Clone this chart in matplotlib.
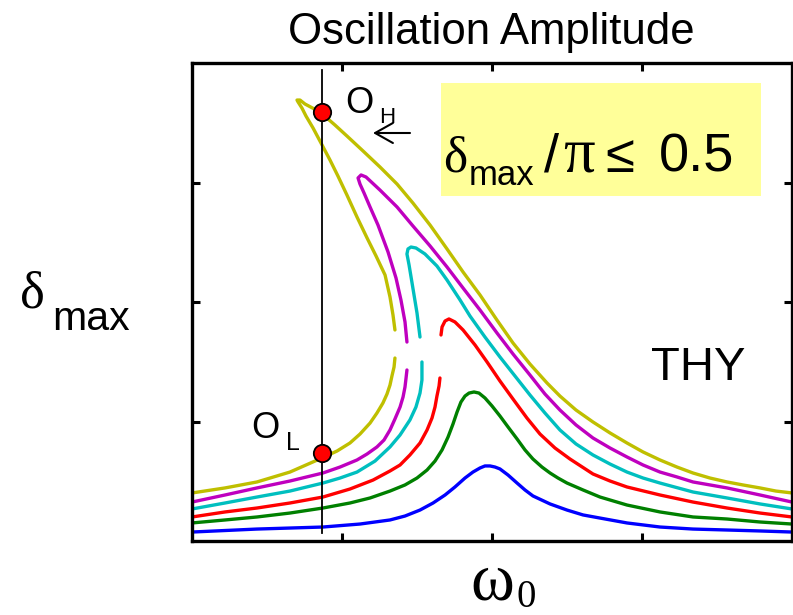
import matplotlib.pyplot as plt

# resonance curves (omega_0 and delta_max in arbitrary units)
# lower branch and (unstable + upper) branch for the four folded curves
olive_lo_x = [0.0, 0.22, 0.433, 0.653, 0.867, 0.967, 1.053, 1.12, 1.187, 1.233, 1.273, 1.30,
              1.32, 1.333, 1.347, 1.353]
olive_lo_y = [0.402, 0.444, 0.494, 0.577, 0.695, 0.753, 0.820, 0.895, 0.987, 1.071, 1.155, 1.230,
              1.305, 1.381, 1.456, 1.531]
olive_up_x = [1.353, 1.34, 1.32, 1.287, 1.227, 1.167, 1.10, 1.033, 0.973, 0.92, 0.867, 0.807,
              0.76, 0.733, 0.707, 0.70, 0.72, 0.753, 0.853, 0.953, 1.033, 1.14, 1.253, 1.367,
              1.473, 1.587, 1.70, 1.807, 1.92, 2.033, 2.14, 2.253, 2.367, 2.453, 2.56, 2.673,
              2.787, 2.90, 3.007, 3.12, 3.233, 3.34, 3.453, 3.567, 3.673, 3.787, 3.893, 4.0]
olive_up_y = [1.766, 1.891, 2.042, 2.226, 2.385, 2.536, 2.711, 2.895, 3.054, 3.188, 3.314, 3.456,
              3.556, 3.623, 3.674, 3.690, 3.690, 3.657, 3.590, 3.481, 3.389, 3.264, 3.130, 2.987,
              2.828, 2.644, 2.444, 2.251, 2.059, 1.849, 1.657, 1.481, 1.322, 1.213, 1.096, 0.996,
              0.904, 0.820, 0.745, 0.678, 0.619, 0.569, 0.527, 0.494, 0.469, 0.444, 0.418, 0.402]

magenta_lo_x = [0.0, 0.22, 0.433, 0.653, 0.873, 0.987, 1.10, 1.167, 1.233, 1.28, 1.32, 1.353,
                1.387, 1.407, 1.42, 1.427, 1.433]
magenta_lo_y = [0.326, 0.385, 0.444, 0.502, 0.569, 0.619, 0.678, 0.728, 0.787, 0.845, 0.929, 1.021,
                1.121, 1.205, 1.289, 1.364, 1.431]
magenta_up_x = [1.433, 1.42, 1.393, 1.36, 1.307, 1.24, 1.187, 1.147, 1.12, 1.107, 1.127, 1.16,
                1.253, 1.367, 1.473, 1.587, 1.70, 1.807, 1.92, 2.033, 2.14, 2.253, 2.353, 2.453,
                2.56, 2.673, 2.787, 2.90, 3.007, 3.12, 3.233, 3.34, 3.567, 3.787, 4.0]
magenta_up_y = [1.665, 1.833, 2.017, 2.201, 2.418, 2.644, 2.795, 2.912, 2.987, 3.038, 3.063, 3.046,
                2.937, 2.795, 2.636, 2.469, 2.293, 2.117, 1.933, 1.741, 1.565, 1.389, 1.230, 1.096,
                0.971, 0.862, 0.778, 0.703, 0.636, 0.577, 0.536, 0.494, 0.444, 0.385, 0.326]

cyan_lo_x = [0.0, 0.22, 0.433, 0.653, 0.873, 0.987, 1.10, 1.22, 1.32, 1.387, 1.453, 1.493,
             1.52, 1.533, 1.533]
cyan_lo_y = [0.268, 0.318, 0.368, 0.418, 0.485, 0.527, 0.577, 0.669, 0.787, 0.887, 1.013, 1.121,
             1.238, 1.347, 1.498]
cyan_up_x = [1.52, 1.50, 1.467, 1.447, 1.433, 1.44, 1.46, 1.493, 1.553, 1.633, 1.70, 1.787, 1.853,
             1.953, 2.053, 2.153, 2.253, 2.353, 2.453, 2.56, 2.673, 2.787, 2.90, 3.007, 3.12,
             3.34, 3.567, 3.787, 4.0]
cyan_up_y = [1.707, 1.908, 2.159, 2.310, 2.402, 2.444, 2.460, 2.452, 2.402, 2.301, 2.184, 2.017,
             1.883, 1.707, 1.540, 1.381, 1.222, 1.071, 0.929, 0.812, 0.720, 0.644, 0.577, 0.527,
             0.485, 0.410, 0.360, 0.310, 0.268]

red_lo_x = [0.0, 0.22, 0.433, 0.653, 0.873, 1.053, 1.207, 1.32, 1.387, 1.453, 1.52, 1.567, 1.60,
            1.62, 1.633, 1.647, 1.653]
red_lo_y = [0.201, 0.243, 0.276, 0.318, 0.368, 0.435, 0.510, 0.586, 0.636, 0.720, 0.820, 0.929,
            1.029, 1.121, 1.213, 1.297, 1.364]
red_up_x = [1.66, 1.667, 1.687, 1.713, 1.753, 1.807, 1.887, 1.967, 2.053, 2.14, 2.233, 2.32, 2.42,
            2.52, 2.673, 2.787, 2.90, 3.12, 3.34, 3.567, 3.787, 4.0]
red_up_y = [1.724, 1.791, 1.841, 1.858, 1.833, 1.766, 1.640, 1.498, 1.339, 1.188, 1.029, 0.895,
            0.778, 0.686, 0.561, 0.502, 0.452, 0.385, 0.326, 0.276, 0.234, 0.201]

green_x = [0.0, 0.22, 0.433, 0.653, 0.873, 1.053, 1.187, 1.32, 1.42, 1.50, 1.567, 1.62, 1.667,
           1.707, 1.74, 1.767, 1.793, 1.82, 1.847, 1.88, 1.913, 1.953, 2.0, 2.053, 2.107, 2.167,
           2.22, 2.273, 2.333, 2.387, 2.44, 2.50, 2.607, 2.72, 2.90, 3.12, 3.34, 3.567, 3.787, 4.0]
green_y = [0.151, 0.176, 0.201, 0.234, 0.276, 0.318, 0.360, 0.418, 0.469, 0.527, 0.594, 0.669,
           0.762, 0.870, 0.979, 1.079, 1.163, 1.213, 1.238, 1.247, 1.238, 1.197, 1.130, 1.046,
           0.954, 0.854, 0.762, 0.686, 0.619, 0.569, 0.527, 0.485, 0.427, 0.368, 0.301, 0.243,
           0.201, 0.184, 0.159, 0.142]

blue_x = [0.0, 0.433, 0.873, 1.12, 1.32, 1.42, 1.52, 1.607, 1.687, 1.753, 1.82, 1.873, 1.92,
          1.953, 1.987, 2.02, 2.053, 2.107, 2.167, 2.22, 2.273, 2.387, 2.50, 2.607, 2.72, 2.90,
          3.12, 3.34, 3.567, 3.787, 4.0]
blue_y = [0.075, 0.100, 0.117, 0.142, 0.176, 0.209, 0.259, 0.318, 0.385, 0.452, 0.527, 0.577,
          0.611, 0.628, 0.628, 0.619, 0.603, 0.552, 0.485, 0.427, 0.377, 0.310, 0.259, 0.218,
          0.192, 0.151, 0.117, 0.100, 0.092, 0.084, 0.075]

# operating points on the olive curve
w_op = 0.867
op_high = 3.59
op_low = 0.736

fig = plt.figure(figsize=(7.93, 6.15), dpi=100)
ax = fig.add_axes([192 / 793, 74 / 615, 600 / 793, 478 / 615])


def px(x, y):
    # pixel position of the original picture -> figure fraction
    return x / 793, 1 - y / 615


lw = 2.4
kw = dict(lw=lw, solid_capstyle='round', solid_joinstyle='round')
ax.plot(blue_x, blue_y, color='#0000ff', **kw)
ax.plot(green_x, green_y, color='#008000', **kw)
ax.plot(red_lo_x, red_lo_y, color='#ff0000', **kw)
ax.plot(red_up_x, red_up_y, color='#ff0000', **kw)
ax.plot(cyan_lo_x, cyan_lo_y, color='#00bfbf', **kw)
ax.plot(cyan_up_x, cyan_up_y, color='#00bfbf', **kw)
ax.plot(magenta_lo_x, magenta_lo_y, color='#bf00bf', **kw)
ax.plot(magenta_up_x, magenta_up_y, color='#bf00bf', **kw)
ax.plot(olive_lo_x, olive_lo_y, color='#bfbf00', **kw)
ax.plot(olive_up_x, olive_up_y, color='#bfbf00', **kw)

ax.plot([w_op, w_op], [0.067, 3.94], color='black', lw=1.3)
ax.plot([w_op, w_op], [op_high, op_low], 'o', color='red', mec='black', mew=1.3, ms=12.5)

ax.set_xlim(0, 4)
ax.set_ylim(0, 4)
ax.set_xticks([1, 2, 3])
ax.set_yticks([1, 2, 3])
ax.tick_params(direction='in', length=6, width=2.2, top=True, right=True,
               labelbottom=False, labelleft=False)
for s in ax.spines.values():
    s.set_linewidth(2.4)

# yellow label box
ax.add_patch(plt.Rectangle((0.415, 0.722), 0.533, 0.236, transform=ax.transAxes,
                           facecolor='#ffff99', edgecolor='none', zorder=0))

serif = 'Liberation Serif'
sans = 'Liberation Sans'
fig.text(*px(443, 172), '\u03b4', family=serif, fontsize=37)
fig.text(*px(469, 185), 'max', family=sans, fontsize=25)
fig.text(*px(544, 172), '/', family=sans, fontsize=39)
fig.text(*px(563, 172), '\u03c0', family=serif, fontsize=45)
fig.text(*px(605, 172), '\u2264', family=sans, fontsize=38)
fig.text(*px(659, 172), '0.5', family=sans, fontsize=39)

fig.text(*px(20, 307), '\u03b4', family=serif, fontsize=38)
fig.text(*px(52, 330), 'max', family=sans, fontsize=29.5)

fig.text(*px(470, 600), '\u03c9', family=serif, fontsize=48)
fig.text(*px(516, 607), '0', family=serif, fontsize=28)

fig.text(*px(491, 44), 'Oscillation Amplitude', family=sans, fontsize=31.5, ha='center')

fig.text(*px(651, 380), 'THY', family=sans, fontsize=34)
fig.text(*px(345, 113), 'O', family=sans, fontsize=26)
fig.text(*px(379, 123), 'H', family=sans, fontsize=16)
fig.text(*px(251, 438), 'O', family=sans, fontsize=26)
fig.text(*px(286, 450), 'L', family=sans, fontsize=18)

ax.annotate('', xy=px(373, 133), xytext=px(410, 133), xycoords='figure fraction',
            arrowprops=dict(arrowstyle='->,head_length=0.8,head_width=0.45', lw=1.5,
                            color='black', mutation_scale=16, shrinkA=0, shrinkB=0))

plt.savefig('out.png', dpi=100)
